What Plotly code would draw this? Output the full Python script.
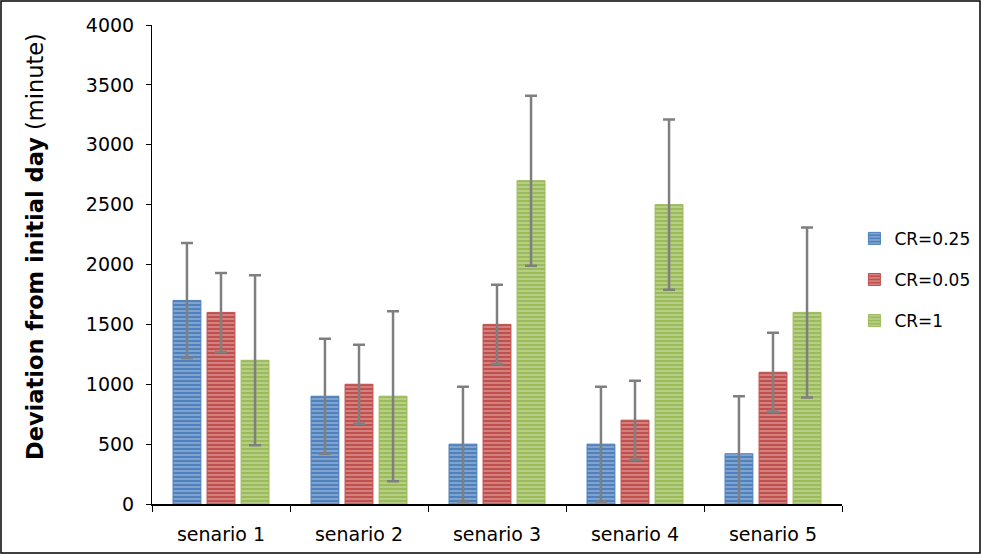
import plotly.graph_objects as go

categories = ["senario 1", "senario 2", "senario 3", "senario 4", "senario 5"]
series_names = ["CR=0.25", "CR=0.05", "CR=1"]
cr025 = [1700, 900, 500, 500, 420]
cr005 = [1600, 1000, 1500, 700, 1100]
cr1 = [1200, 900, 2700, 2500, 1600]
err025 = [480, 480, 480, 480, 480]
err005 = [330, 330, 330, 330, 330]
err1 = [710, 710, 710, 710, 710]

colors = ["#4f81bd", "#c0504d", "#9bbb59"]
values = [cr025, cr005, cr1]
errors = [err025, err005, err1]

fig = go.Figure()
for name, vals, errs, col in zip(series_names, values, errors, colors):
    fig.add_trace(go.Bar(
        x=categories, y=vals, name=name, legendgroup=name,
        marker=dict(color=col, line=dict(color=col, width=1),
                    pattern=dict(shape="-", fgcolor="rgba(255,255,255,0.7)", size=4, solidity=0.4)),
        error_y=dict(type="data", array=errs, visible=True, color="#7f7f7f", thickness=2.5, width=6),
    ))

font = "DejaVu Sans, sans-serif"
W, H = 981, 554
L, R, T, B = 152, 139, 25, 50
pw, ph = W - L - R, H - T - B
fig.update_layout(
    width=W, height=H,
    paper_bgcolor="white", plot_bgcolor="white",
    barmode="group", bargap=0.26, bargroupgap=0.18,
    margin=dict(l=L, r=R, t=T, b=B, autoexpand=False),
    font=dict(family=font, size=17, color="black"),
    legend=dict(x=1.018, y=0.468, yanchor="middle", xanchor="left", font=dict(size=17),
                itemwidth=30, tracegroupgap=16, traceorder="grouped"),
    showlegend=True,
    yaxis=dict(range=[0, 4000], dtick=500, showgrid=False, ticks="outside", ticklen=5,
               showline=True, linecolor="black", linewidth=1, tickcolor="black",
               tickfont=dict(size=19), ticklabelstandoff=8, automargin=False),
    xaxis=dict(showline=True, linecolor="black", linewidth=1.5, ticks="outside", ticklen=6,
               tickfont=dict(size=19), ticklabelstandoff=12, automargin=False,
               tickson="boundaries", tickcolor="black", showgrid=False),
    annotations=[dict(text="<b>Deviation from initial day</b> (minute)", textangle=-90,
                      xref="paper", yref="paper", x=(35 - L) / pw, y=(T + ph - 247) / ph,
                      xanchor="center", yanchor="middle", showarrow=False,
                      font=dict(size=22.5))],
    shapes=[dict(type="rect", xref="paper", yref="paper",
                 x0=(1 - L) / pw, x1=(W - 1 - L) / pw,
                 y0=-(H - 1 - (T + ph)) / ph, y1=1 + (T - 1) / ph,
                 line=dict(color="black", width=1.5))],
)
fig.write_html("out.html", config={"displayModeBar": False},
               post_script="document.body.style.margin='0';document.body.style.overflow='hidden';")
